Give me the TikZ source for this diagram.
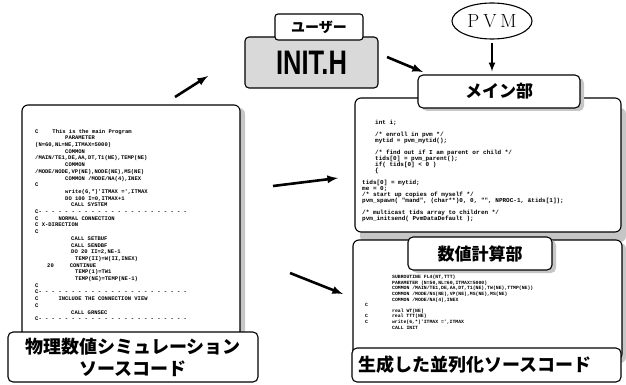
\documentclass[tikz,border=0pt]{standalone}
\usepackage{fontspec}
\setmonofont{Liberation Mono}
\newfontfamily\cjk{Noto Sans CJK JP}
\newfontfamily\headfont{Liberation Sans}
\usepackage{tikz}
\usetikzlibrary{arrows,shapes.geometric,shadows}
\newcommand\indn[1]{\hspace*{#1}}
\newcommand\cbar{C- - - - - - - - - - - - - - - - - - - - - - -}

\begin{document}
\begin{tikzpicture}[x=1pt,y=-1pt,
  panel/.style={rectangle,rounded corners=6pt,draw,line width=1.1pt,fill=white,inner sep=0pt},
  tab/.style={rectangle,rounded corners=5pt,draw,line width=1.1pt,fill=white,inner sep=0pt,font=\cjk\bfseries},
  caption/.style={rectangle,rounded corners=5pt,draw,line width=1.1pt,fill=white,font=\cjk\bfseries},
  code/.style={anchor=north west,align=left,inner sep=0pt,font=\ttfamily\bfseries},
  arr/.style={-latex,line width=2.6pt}]
\useasboundingbox (0,0) rectangle (626,385);

% left: original source
\node[panel,minimum width=218pt,minimum height=240pt,
  drop shadow={shadow xshift=5pt,shadow yshift=-3pt,fill=gray!45,opacity=1}] (src) at (131,225) {};
\node[code,font=\ttfamily\bfseries\fontsize{5.5}{6.7}\selectfont] (srccode) at (35,129) {%
C\indn{14pt}This is the main Program\\
\indn{30pt}PARAMETER\\
(N=60,NL=NE,ITMAX=5000)\\
\indn{30pt}COMMON\\
/MAIN/TE1,DE,AA,DT,T1(NE),TEMP(NE)\\
\indn{30pt}COMMON\\
/MODE/NODE,VP(NE),NODE(NE),MS(NE)\\
\indn{30pt}COMMON /MODE/NA(4),INEX\\
C\\
\indn{30pt}write(6,*)'ITMAX =',ITMAX\\
\indn{30pt}DO 100 I=0,ITMAX+1\\
\indn{36pt}CALL SYSTEM\\
\cbar\\
C\indn{20pt}NORMAL CONNECTION\\
C X-DIRECTION\\
C\\
\indn{36pt}CALL SETBUF\\
\indn{36pt}CALL SENDBF\\
\indn{36pt}DO 20 II=2,NE-1\\
\indn{40pt}TEMP(II)=W(II,INEX)\\
\indn{12pt}20\indn{16pt}CONTINUE\\
\indn{40pt}TEMP(1)=TW1\\
\indn{40pt}TEMP(NE)=TEMP(NE-1)\\
C\\
\cbar\\
C\indn{20pt}INCLUDE THE CONNECTION VIEW\\
C\\
\indn{36pt}CALL GRNSEC\\
\cbar};
\node[caption,minimum width=250pt,minimum height=50pt,align=center,
  font=\cjk\bfseries\fontsize{18}{22}\selectfont] (srclabel) at (133,357)
  {物理数値シミュレーション\\ソースコード};

% top: user include file and PVM
\node[rectangle,rounded corners=4pt,draw,line width=1.1pt,fill=gray!30,
  minimum width=133pt,minimum height=51pt] (init) at (311.5,62.5)
  {\headfont\bfseries\scalebox{0.75}[1]{\fontsize{34}{34}\selectfont INIT.H}};
\node[tab,rounded corners=3pt,minimum width=88pt,minimum height=26pt,
  font=\cjk\bfseries\fontsize{14}{14}\selectfont] (user) at (319,27) {ユーザー};
\node[ellipse,draw,line width=1.1pt,minimum width=80pt,minimum height=36pt,
  inner sep=0pt,font=\fontsize{19}{19}\selectfont] (pvm) at (492,21)
  {P\hspace{4pt}V\hspace{4pt}M};

% right: generated parallel source
\node[panel,minimum width=266pt,minimum height=134pt,
  drop shadow={shadow xshift=5pt,shadow yshift=-10pt,fill=gray!45,opacity=1}] (main) at (488,165) {};
\node[tab,minimum width=162pt,minimum height=33pt,font=\cjk\bfseries\fontsize{17}{17}\selectfont,
  drop shadow={shadow xshift=4pt,shadow yshift=-3pt,fill=gray!45,opacity=1}] (mtab) at (499,91.5) {メイン部};
\node[code,font=\ttfamily\bfseries\fontsize{6}{6}\selectfont] (maincode) at (362,120) {%
\indn{13pt}int i;\\
~\\
\indn{13pt}/* enroll in pvm */\\
\indn{13pt}mytid = pvm\_mytid();\\
~\\
\indn{13pt}/* find out if I am parent or child */\\
\indn{13pt}tids[0] = pvm\_parent();\\
\indn{13pt}if( tids[0] < 0 )\\
\indn{13pt}\{\\
~\\
tids[0] = mytid;\\
me = 0;\\
/* start up copies of myself */\\
pvm\_spawn( "mand", (char**)0, 0, "", NPROC-1, \&tids[1]);\\
~\\
/* multicast tids array to children */\\
pvm\_initsend( PvmDataDefault );};

\node[panel,minimum width=269pt,minimum height=120pt,
  drop shadow={shadow xshift=4pt,shadow yshift=-3pt,fill=gray!45,opacity=1}] (calc) at (487.5,300) {};
\node[tab,minimum width=144pt,minimum height=33pt,font=\cjk\bfseries\fontsize{17}{17}\selectfont,
  drop shadow={shadow xshift=4pt,shadow yshift=-3pt,fill=gray!45,opacity=1}] (ctab) at (480,253.5) {数値計算部};
\node[code,font=\ttfamily\bfseries\fontsize{4.8}{5.6}\selectfont] (calccode) at (365,275) {%
\indn{27pt}SUBROUTINE FL4(NT,TTT)\\
\indn{27pt}PARAMETER (N=50,NL=60,ITMAX=5000)\\
\indn{27pt}COMMON /MAIN/TE1,DE,AA,DT,T1(NE),TW(NE),TTMP(NE))\\
\indn{27pt}COMMON /MODE/NS(NE),VP(NE),MS(NE),MS(NE)\\
\indn{27pt}COMMON /MODE/NA(4),INEX\\
C\\
\indn{27pt}real WT(NE)\\
C\indn{24pt}real TTT(NE)\\
C\indn{24pt}write(6,*)'ITMAX =',ITMAX\\
\indn{27pt}CALL INIT};
\node[caption,minimum width=269pt,minimum height=34pt,text width=257pt,align=left,
  inner xsep=6pt,font=\cjk\bfseries\fontsize{18}{18}\selectfont] (outlabel) at (486.5,365)
  {生成した並列化ソースコード};

% arrows
\coordinate (a1s) at (175,97);
\coordinate (a1e) at (208,76);
\coordinate (a2s) at (387,57);
\coordinate (a2e) at (423,72);
\coordinate (a3s) at (273,186);
\coordinate (a3e) at (338,178);
\coordinate (a4s) at (290,273);
\coordinate (a4e) at (343,294);
\draw[arr] (a1s) -- (a1e);
\draw[arr] (a2s) -- (a2e);
\draw[arr] (a3s) -- (a3e);
\draw[arr] (a4s) -- (a4e);
\draw[arr,line width=2pt,shorten <=3pt,shorten >=3pt] (pvm.south) -- (pvm.south |- mtab.north);
\end{tikzpicture}
\end{document}
